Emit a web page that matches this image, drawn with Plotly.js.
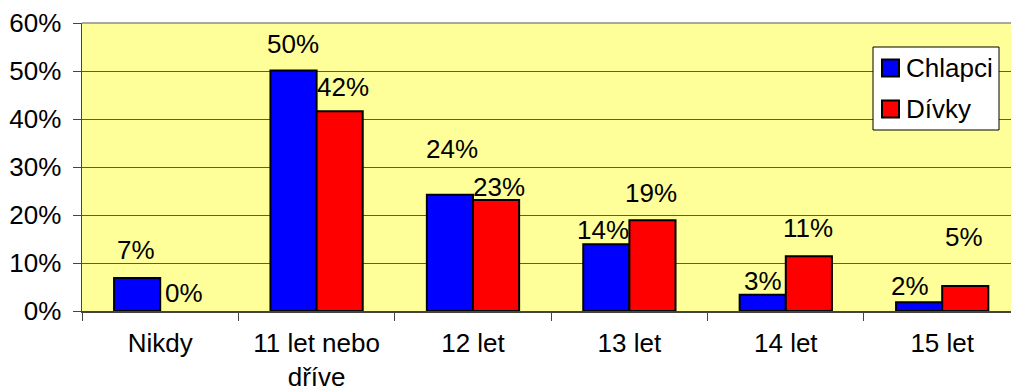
<!DOCTYPE html>
<html>
<head>
<meta charset="utf-8">
<script src="https://cdn.plot.ly/plotly-3.0.1.min.js"></script>
<style>
  html, body { margin: 0; padding: 0; background: #ffffff; }
  #chart { width: 1011px; height: 392px; }
</style>
</head>
<body>
<div id="chart"></div>
<script>
// Věk prvního kouření – podíl chlapců a dívek (%)
const categories = ['Nikdy', '11 let nebo<br>dříve', '12 let', '13 let', '14 let', '15 let'];
const seriesNames = ['Chlapci', 'Dívky'];
const chlapci = [6.9, 50.1, 24.2, 13.9, 3.4, 1.8];
const divky = [0, 41.6, 23.1, 18.9, 11.4, 5.2];
const yTicks = [0, 10, 20, 30, 40, 50, 60];

// Label placement tweaks (pixels above the bar top, horizontal nudge)
const liftChlapci = [28, 27, 46, 14, 14, 16];
const liftDivky = [18, 24, 13, 27, 28, 49];
const nudgeChlapci = [-1, -1, 2, -3, 0, -9];
const nudgeDivky = [1, 3, 3, -1, -1, -1];

const FONT = 'Liberation Sans, Arial, sans-serif';
const FS = 26;
const colors = ['#0000FF', '#FF0000'];

const M = { l: 82, r: 0, t: 23, b: 81 };
const W = 1011, H = 392;
const plotW = W - M.l - M.r, plotH = H - M.t - M.b;
const px2x = px => (px - M.l) / plotW;
const py2y = py => (H - M.b - py) / plotH;

const BARGAP = 0.41;
const barPx = (1 - BARGAP) / 2 * (plotW / 5.94);

const traces = [chlapci, divky].map((vals, i) => ({
  type: 'bar',
  name: seriesNames[i],
  x: categories,
  y: vals,
  marker: {
    color: colors[i],
    // no outline on empty bars
    line: { color: '#000000', width: vals.map(v => (v > 0 ? 2 : 0)) }
  },
  hoverinfo: 'skip',
  showlegend: false
}));

const annotations = [];
[[chlapci, liftChlapci, nudgeChlapci, -1], [divky, liftDivky, nudgeDivky, 1]].forEach(([vals, lift, nudge, side]) => {
  vals.forEach((v, k) => {
    annotations.push({
      x: categories[k], y: v, xref: 'x', yref: 'y',
      text: Math.round(v) + '%',
      showarrow: false,
      xanchor: 'center', yanchor: 'middle',
      xshift: side * barPx / 2 + nudge[k],
      yshift: lift[k],
      font: { family: FONT, size: FS, color: '#000000' }
    });
  });
});

// Legend box drawn in plot coordinates
const legBox = { x0: 873, x1: 999, y0: 47, y1: 130 };
const legRows = [68, 109];
const shapes = [
  { type: 'line', xref: 'paper', yref: 'paper', x0: 0, x1: 1, y0: 1, y1: 1,
    line: { color: '#8c8c8c', width: 1.5 } },
  { type: 'rect', xref: 'paper', yref: 'paper',
    x0: px2x(legBox.x0), x1: px2x(legBox.x1), y0: py2y(legBox.y1), y1: py2y(legBox.y0),
    fillcolor: '#ffffff', line: { color: '#000000', width: 1 } }
];
legRows.forEach((cy, i) => {
  shapes.push({ type: 'rect', xref: 'paper', yref: 'paper',
    x0: px2x(882), x1: px2x(899), y0: py2y(cy + 8.5), y1: py2y(cy - 8.5),
    fillcolor: colors[i], line: { color: '#000000', width: 2 } });
  annotations.push({ xref: 'paper', yref: 'paper', x: px2x(904), y: py2y(cy),
    text: seriesNames[i], showarrow: false, xanchor: 'left', yanchor: 'middle',
    font: { family: FONT, size: FS, color: '#000000' } });
});

const layout = {
  width: W, height: H,
  margin: M,
  paper_bgcolor: '#ffffff',
  plot_bgcolor: '#FFFF99',
  barmode: 'group',
  bargap: BARGAP,
  bargroupgap: 0,
  showlegend: false,
  font: { family: FONT, size: FS, color: '#000000' },
  xaxis: {
    type: 'category',
    range: [-0.5, 5.44],
    tickson: 'boundaries',
    ticks: 'outside', ticklen: 8, tickcolor: '#444444', tickwidth: 1,
    ticklabelstandoff: 8,
    showline: true, linecolor: '#444444', linewidth: 1.5,
    showgrid: false, zeroline: false,
    tickfont: { family: FONT, size: FS, color: '#000000' }
  },
  yaxis: {
    range: [0, 60],
    tickvals: yTicks,
    ticktext: yTicks.map(t => t + '%'),
    ticks: 'outside', ticklen: 8, tickcolor: '#444444', tickwidth: 1,
    ticklabelstandoff: 6,
    showline: true, linecolor: '#444444', linewidth: 1.5,
    showgrid: true, gridcolor: '#5c5c50', gridwidth: 1,
    zeroline: false,
    tickfont: { family: FONT, size: FS, color: '#000000' }
  },
  shapes: shapes,
  annotations: annotations
};

Plotly.newPlot('chart', traces, layout, { displayModeBar: false, staticPlot: true });
</script>
</body>
</html>
